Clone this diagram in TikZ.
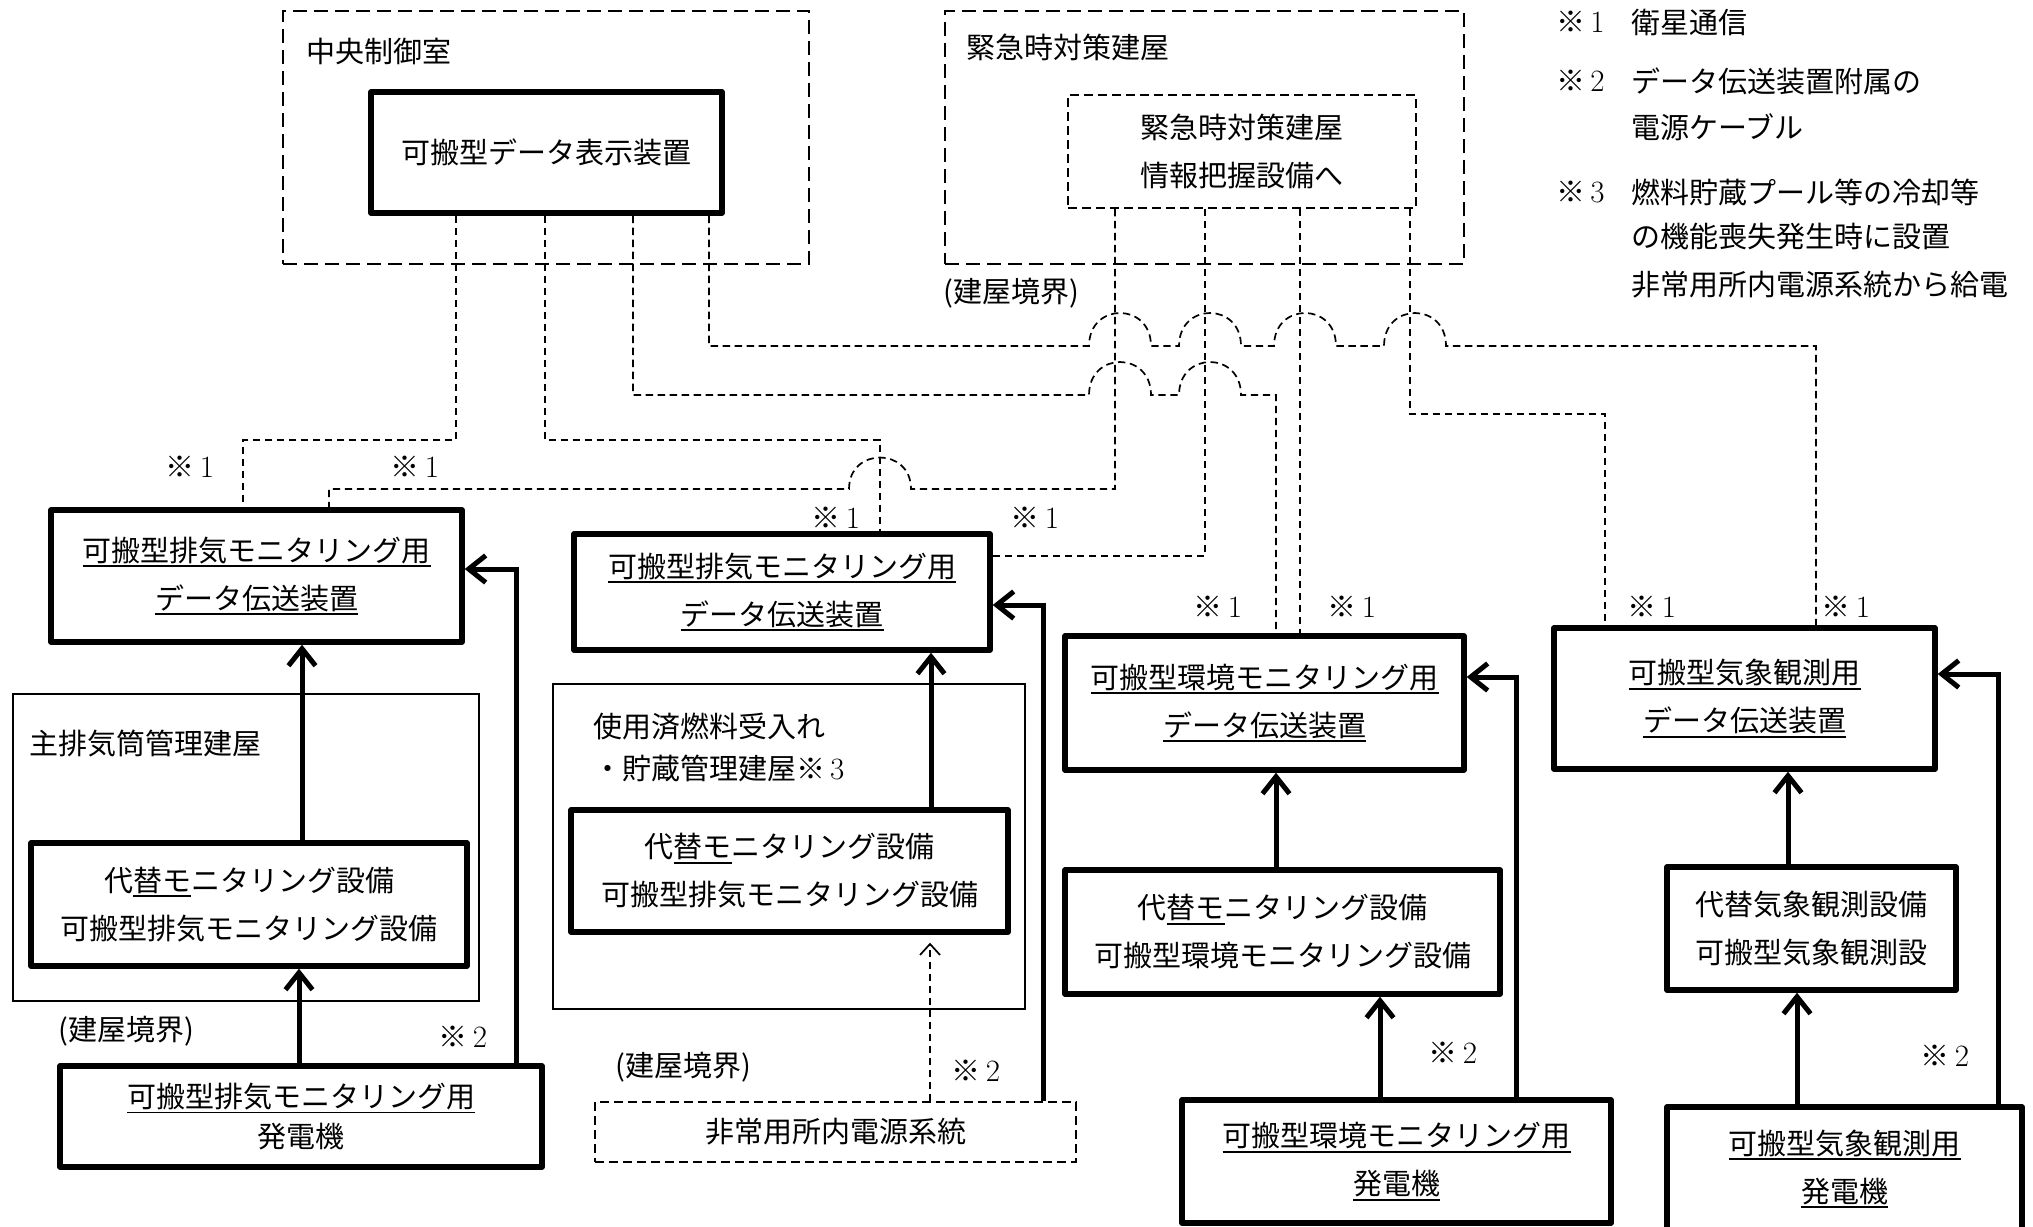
\documentclass[tikz,border=0pt]{standalone}
\usepackage{fontspec}
\newfontfamily\jp{Noto Sans CJK JP}
\usetikzlibrary{arrows.meta,calc}
\newcommand\kome[1]{※{\rmfamily\,\fontsize{15.5}{24}\selectfont #1}}
\newcommand\ul[1]{\vtop{\hbox{#1}\kern0.8pt\hrule height 0.9pt}}
\tikzset{
  jpf/.style={font=\jp\fontsize{14.5}{24}\selectfont},
  bldgdash/.style={draw, line width=1.1pt, dash pattern=on 7pt off 3.5pt, inner sep=0pt},
  thinbox/.style={draw, line width=0.8pt, inner sep=0pt},
  thkbox/.style={draw, line width=2.7pt, line join=round, inner sep=0pt, align=center, jpf},
  smdash/.style={draw, line width=0.85pt, dash pattern=on 4.5pt off 2.5pt, inner sep=0pt, align=center, jpf},
  lbl/.style={inner sep=0pt, jpf},
  conn/.style={line width=0.85pt, dash pattern=on 3.7pt off 2.3pt},
  thkarrow/.style={line width=2.5pt, -{Straight Barb[length=8.5pt,width=13.5pt]}},
  dasharrow/.style={line width=0.85pt, dash pattern=on 3.7pt off 2.3pt, -{Straight Barb[length=5.5pt,width=10pt]}},
  hopr/.style 2 args={insert path={-- ({#1-26},#2) .. controls ({#1-26},{#2-44}) and ({#1+36},{#2-44}) .. ({#1+36},#2)}},
  hopl/.style 2 args={insert path={-- ({#1+31},#2) .. controls ({#1+31},{#2-42}) and ({#1-31},{#2-42}) .. ({#1-31},#2)}},
}
\begin{document}
\begin{tikzpicture}[x=0.5pt,y=-0.5pt]
\useasboundingbox (0,0) rectangle (2033,1226);

% buildings (dashed)
\node[bldgdash, minimum width=263pt, minimum height=126.5pt] (ctrl) at (546,137.5) {};
\node[lbl, anchor=west] (lctrl) at (306,51) {中央制御室};
\node[bldgdash, minimum width=259.5pt, minimum height=126.5pt] (emerg) at (1204.5,137.5) {};
\node[lbl, anchor=west] (lemerg) at (966,47) {緊急時対策建屋};
\node[lbl, anchor=west] (lb1) at (943,293) {(建屋境界)};

% display and info
\node[thkbox, minimum width=175.5pt, minimum height=60.5pt] (disp) at (546.5,152.5) {可搬型データ表示装置};
\node[smdash, minimum width=174pt, minimum height=56.5pt] (info) at (1242,151.5) {緊急時対策建屋\\情報把握設備へ};

% data transmission boxes
\node[thkbox, minimum width=205.5pt, minimum height=66pt] (d1) at (256.5,576) {\ul{可搬型排気モニタリング用}\\\ul{データ伝送装置}};
\node[thkbox, minimum width=208pt, minimum height=58pt] (d2) at (782,592) {\ul{可搬型排気モニタリング用}\\\ul{データ伝送装置}};
\node[thkbox, minimum width=199.5pt, minimum height=67pt] (d3) at (1264.5,703) {\ul{可搬型環境モニタリング用}\\\ul{データ伝送装置}};
\node[thkbox, minimum width=190.5pt, minimum height=70.5pt] (d4) at (1744.5,698.5) {\ul{可搬型気象観測用}\\\ul{データ伝送装置}};

% building 1
\node[thinbox, minimum width=233pt, minimum height=153.5pt] (bldg1) at (246,847.5) {};
\node[lbl, anchor=west] (lbldg1) at (29,744) {主排気筒管理建屋};
\node[thkbox, minimum width=218pt, minimum height=61.5pt] (alt1) at (249,904.5) {代\ul{替モ}ニタリング設備\\可搬型排気モニタリング設備};
\node[thkbox, minimum width=241pt, minimum height=50.5pt] (gen1) at (301,1116.5) {\ul{可搬型排気モニタリング用}\\[-4pt]発電機};
\node[lbl, anchor=west] (lb2) at (58,1031) {(建屋境界)};

% building 2
\node[thinbox, minimum width=236pt, minimum height=162.5pt] (bldg2) at (789,846.5) {};
\node[lbl, anchor=west] (lbldg2a) at (593,727) {使用済燃料受入れ};
\node[lbl, anchor=west] (lbldg2b) at (593,768) {・貯蔵管理建屋\kome{3}};
\node[thkbox, minimum width=218.5pt, minimum height=61pt] (alt2) at (789.5,871) {代\ul{替モ}ニタリング設備\\可搬型排気モニタリング設備};
\node[smdash, minimum width=240.5pt, minimum height=30pt] (emp) at (835.5,1132) {非常用所内電源系統};
\node[lbl, anchor=west] (lb3) at (615,1067) {(建屋境界)};

% environment
\node[thkbox, minimum width=217.5pt, minimum height=62pt] (alt3) at (1282.5,932) {代\ul{替モ}ニタリング設備\\可搬型環境モニタリング設備};
\node[thkbox, minimum width=214.5pt, minimum height=61.5pt] (gen3) at (1396.5,1161.5) {\ul{可搬型環境モニタリング用}\\\ul{発電機}};

% weather
\node[thkbox, minimum width=144.5pt, minimum height=61.5pt] (alt4) at (1811.5,928.5) {代替気象観測設備\\可搬型気象観測設};
\node[thkbox, minimum width=177.5pt, minimum height=62pt] (gen4) at (1844.5,1169) {\ul{可搬型気象観測用}\\\ul{発電機}};

% remark labels
\node[lbl] (k1) at (190,467) {\kome{1}};
\node[lbl] (k2) at (415,467) {\kome{1}};
\node[lbl] (k3) at (836,518) {\kome{1}};
\node[lbl] (k4) at (1035,518) {\kome{1}};
\node[lbl] (k5) at (1218,607) {\kome{1}};
\node[lbl] (k6) at (1352,607) {\kome{1}};
\node[lbl] (k7) at (1652,607) {\kome{1}};
\node[lbl] (k8) at (1846,607) {\kome{1}};
\node[lbl] (k9) at (463,1037) {\kome{2}};
\node[lbl] (k10) at (976,1071) {\kome{2}};
\node[lbl] (k11) at (1453,1053) {\kome{2}};
\node[lbl] (k12) at (1945,1056) {\kome{2}};

% notes
\node[lbl, anchor=west] (n1m) at (1556,22) {\kome{1}};
\node[lbl, anchor=west] (n1t) at (1631,22) {衛星通信};
\node[lbl, anchor=west] (n2m) at (1556,81) {\kome{2}};
\node[lbl, anchor=west] (n2t) at (1631,81) {データ伝送装置附属の};
\node[lbl, anchor=west] (n2u) at (1631,127) {電源ケーブル};
\node[lbl, anchor=west] (n3m) at (1556,192) {\kome{3}};
\node[lbl, anchor=west] (n3t) at (1631,192) {燃料貯蔵プール等の冷却等};
\node[lbl, anchor=west] (n3u) at (1631,237) {の機能喪失発生時に設置};
\node[lbl, anchor=west] (n3v) at (1631,285) {非常用所内電源系統から給電};

% routing coordinates
\coordinate (xA) at (456,0);  \coordinate (xB) at (545,0);
\coordinate (xC) at (633,0);  \coordinate (xD) at (709,0);
\coordinate (xE) at (1115,0); \coordinate (xF) at (1205,0);
\coordinate (xG) at (1300,0); \coordinate (xH) at (1410,0);
\coordinate (xA2) at (243,0); \coordinate (xB2) at (880,0);
\coordinate (xC2) at (1276,0); \coordinate (xD2) at (1816,0);
\coordinate (xE2) at (329,0); \coordinate (xH2) at (1605,0);
\coordinate (yA) at (0,440); \coordinate (yC) at (0,395);
\coordinate (yD) at (0,346); \coordinate (yE) at (0,489);
\coordinate (yF) at (0,556); \coordinate (yH) at (0,414);

% satellite data lines
\draw[conn] (xA |- disp.south) -- (xA |- yA) -| (xA2 |- d1.north);
\draw[conn] (xB |- disp.south) -- (xB |- yA) -| (xB2 |- d2.north);
\draw[conn] (xC |- disp.south) -- (xC |- yC) [hopr={1115}{395}] [hopr={1205}{395}] -| (xC2 |- d3.north);
\draw[conn] (xD |- disp.south) -- (xD |- yD) [hopr={1115}{346}] [hopr={1205}{346}] [hopr={1300}{346}] [hopr={1410}{346}] -| (xD2 |- d4.north);
\draw[conn] (xE |- info.south) -- (xE |- yE) [hopl={880}{489}] -| (xE2 |- d1.north);
\draw[conn] (xF |- info.south) |- (d2.east |- yF);
\draw[conn] (xG |- info.south) -- (xG |- d3.north);
\draw[conn] (xH |- info.south) -- (xH |- yH) -| (xH2 |- d4.north);

% power / signal arrows
\coordinate (a1) at (302,0); \coordinate (g1) at (299,0);
\coordinate (p1) at (516,0); \coordinate (py1) at (0,569);
\coordinate (a2) at (931,0); \coordinate (e2) at (930,0);
\coordinate (p2) at (1043,0); \coordinate (py2) at (0,605);
\coordinate (a3) at (1276,0); \coordinate (g3) at (1380,0);
\coordinate (p3) at (1516,0); \coordinate (py3) at (0,677);
\coordinate (a4) at (1788,0); \coordinate (g4) at (1797,0);
\coordinate (p4) at (1998,0); \coordinate (py4) at (0,674);

\draw[thkarrow] (a1 |- alt1.north) -- (a1 |- d1.south);
\draw[thkarrow] (g1 |- gen1.north) -- (g1 |- alt1.south);
\draw[thkarrow] (p1 |- gen1.north) |- (d1.east |- py1);

\draw[thkarrow] (a2 |- alt2.north) -- (a2 |- d2.south);
\draw[dasharrow] (e2 |- emp.north) -- ($(e2 |- alt2.south)+(0,8)$);
\draw[thkarrow] (p2 |- emp.north) |- (d2.east |- py2);

\draw[thkarrow] (a3 |- alt3.north) -- (a3 |- d3.south);
\draw[thkarrow] (g3 |- gen3.north) -- (g3 |- alt3.south);
\draw[thkarrow] (p3 |- gen3.north) |- (d3.east |- py3);

\draw[thkarrow] (a4 |- alt4.north) -- (a4 |- d4.south);
\draw[thkarrow] (g4 |- gen4.north) -- (g4 |- alt4.south);
\draw[thkarrow] (p4 |- gen4.north) |- (d4.east |- py4);
\end{tikzpicture}
\end{document}
